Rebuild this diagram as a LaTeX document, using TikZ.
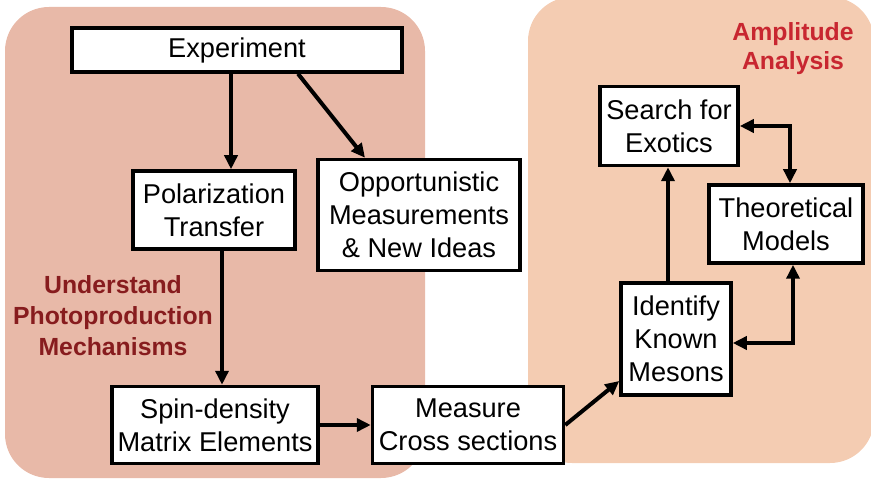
\documentclass[tikz,border=0pt]{standalone}
\usepackage{fontspec}
\setmainfont{Liberation Sans}
\usetikzlibrary{arrows.meta}
\definecolor{leftbg}{RGB}{232,185,168}
\definecolor{rightbg}{RGB}{244,204,178}
\definecolor{darkred}{RGB}{135,28,30}
\definecolor{brightred}{RGB}{200,38,48}

\begin{document}
\begin{tikzpicture}[x=0.5pt, y=-0.5pt,
	box/.style = {draw, line width=1.75pt, fill=white, align=center,
		inner sep=1pt, font=\fontsize{13.6}{16.5}\selectfont},
	goal/.style = {align=center, font=\fontsize{12.4}{15.5}\selectfont\bfseries},
	link/.style = {line width=2pt, -{Triangle[length=7pt, width=6.5pt]}},
	both/.style = {line width=2pt,
		{Triangle[length=7pt, width=6.5pt]}-{Triangle[length=7pt, width=6.5pt]}}]
	\useasboundingbox (0,0) rectangle (871,480);
	% the two panels
	\fill[leftbg, rounded corners=22pt] (5,7) rectangle (425,478);
	\fill[rightbg, rounded corners=22pt] (528,-3) rectangle (874,463);
	\node[goal, text=darkred] (mech) at (113,316)
		{Understand\\Photoproduction\\Mechanisms};
	\node[goal, text=brightred, font=\fontsize{12.4}{14.5}\selectfont\bfseries]
		(ampl) at (793,49) {Amplitude\\Analysis};
	% boxes
	\node[box, minimum width=165pt, minimum height=22pt] (exp) at (237,50) {Experiment};
	\node[box, minimum width=81pt, minimum height=39pt] (pol) at (214,210)
		{Polarization\\Transfer};
	\node[box, minimum width=101pt, minimum height=55.5pt] (opp) at (419,215)
		{Opportunistic\\Measurements\\\& New Ideas};
	\node[box, minimum width=103pt, minimum height=38.5pt] (spin) at (215,425)
		{Spin-density\\Matrix Elements};
	\node[box, minimum width=95.5pt, minimum height=38.5pt] (meas) at (468,425)
		{Measure\\Cross sections};
	\node[box, minimum width=55pt, minimum height=56pt] (iden) at (676,339)
		{Identify\\Known\\Mesons};
	\node[box, minimum width=69pt, minimum height=39.5pt] (srch) at (669,126)
		{Search for\\Exotics};
	\node[box, minimum width=77pt, minimum height=39pt] (theo) at (786,224)
		{Theoretical\\Models};
	% connectors
	\draw[link] (exp.south -| 231,0) -- (pol.north -| 231,0);
	\draw[link] (exp.south -| 298,0) -- (opp.north -| 365,0);
	\draw[link] (pol.south -| 222,0) -- (spin.north -| 222,0);
	\draw[link] (spin.east) -- (meas.west);
	\draw[link] (meas.east) -- (iden.west |- 0,381);
	\draw[link] (iden.north -| 668,0) -- (srch.south -| 668,0);
	\draw[both] (srch.east) -| ([xshift=2pt]theo.north);
	\draw[both] ([xshift=3.5pt]theo.south) |- ([yshift=-2pt]iden.east);
\end{tikzpicture}
\end{document}
